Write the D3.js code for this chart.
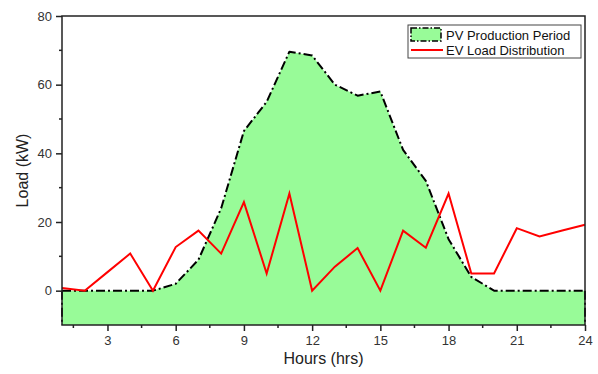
<!DOCTYPE html>
<html>
<head>
<meta charset="utf-8">
<script src="https://cdn.jsdelivr.net/npm/d3@7"></script>
<style>
  body { margin: 0; background: #fff; }
  svg { font-family: "Liberation Sans", Arial, sans-serif; }
</style>
</head>
<body>
<svg id="chart" width="598" height="374"></svg>
<script>
// hourly values
var hours = [1, 2, 3, 4, 5, 6, 7, 8, 9, 10, 11, 12, 13, 14, 15, 16, 17, 18, 19, 20, 21, 22, 23, 24];
var pvLoad = [0, 0, 0, 0, 0, 2, 9, 24, 46.5, 55, 69.6, 68.5, 60, 56.8, 58, 41, 32, 15, 4, 0, 0, 0, 0, 0];
var evLoad = [0.8, 0, 5.4, 10.8, 0, 12.7, 17.5, 10.8, 25.8, 5, 28.3, 0, 7, 12.4, 0, 17.5, 12.5, 28.3, 5, 5, 18.2, 15.8, 17.5, 19.2];
var xTicks = [3, 6, 9, 12, 15, 18, 21, 24];
var yTicks = [0, 20, 40, 60, 80];
var seriesNames = ["PV Production Period", "EV Load Distribution"];

var dimensions = {
    width: 598,
    height: 374,
    margin: { top: 16, right: 13, bottom: 49, left: 62 }
};

var svg = d3.select("#chart");

var xScale = d3.scaleLinear()
    .domain([1, 24])
    .range([dimensions.margin.left, dimensions.width - dimensions.margin.right]);

var yScale = d3.scaleLinear()
    .domain([-10, 80])
    .range([dimensions.height - dimensions.margin.bottom, dimensions.margin.top]);

var pvData = hours.map((h, i) => ({ h: h, v: pvLoad[i] }));
var evData = hours.map((h, i) => ({ h: h, v: evLoad[i] }));

var dashDot = "9,3,2,3";

// PV area, filled down to the bottom of the axis
var area = d3.area()
    .x(d => xScale(d.h))
    .y0(yScale(-10))
    .y1(d => yScale(d.v));

svg.append("path")
    .datum(pvData)
    .attr("d", area)
    .attr("fill", "#98fb98")
    .attr("stroke", "none");

var line = d3.line()
    .x(d => xScale(d.h))
    .y(d => yScale(d.v));

svg.append("path")
    .datum(pvData)
    .attr("d", line)
    .attr("fill", "none")
    .attr("stroke", "#000")
    .attr("stroke-width", 2)
    .attr("stroke-linejoin", "round")
    .attr("stroke-dasharray", dashDot);

// drop lines at the edges of the area
[hours[0], hours[hours.length - 1]].forEach(h => {
    svg.append("line")
        .attr("x1", xScale(h)).attr("x2", xScale(h))
        .attr("y1", yScale(0)).attr("y2", yScale(-10))
        .attr("stroke", "#000")
        .attr("stroke-width", 2)
        .attr("stroke-dasharray", dashDot);
});

// EV load line
svg.append("path")
    .datum(evData)
    .attr("d", line)
    .attr("fill", "none")
    .attr("stroke", "#ff0000")
    .attr("stroke-width", 2)
    .attr("stroke-linejoin", "miter");

// frame
svg.append("rect")
    .attr("x", dimensions.margin.left)
    .attr("y", dimensions.margin.top)
    .attr("width", dimensions.width - dimensions.margin.left - dimensions.margin.right)
    .attr("height", dimensions.height - dimensions.margin.top - dimensions.margin.bottom)
    .attr("fill", "none")
    .attr("stroke", "#222")
    .attr("stroke-width", 1.5);

// x axis
var xAxis = d3.axisBottom(xScale)
    .tickValues(xTicks)
    .tickSize(6)
    .tickPadding(5);
var gx = svg.append("g")
    .attr("transform", `translate(0, ${dimensions.height - dimensions.margin.bottom})`)
    .call(xAxis);
gx.select(".domain").remove();
gx.selectAll(".tick line").attr("stroke", "#222").attr("stroke-width", 1.5);
gx.selectAll(".tick text").attr("font-size", "13px").attr("fill", "#333")
    .attr("font-family", "Liberation Sans, Arial, sans-serif");

var xMinor = xTicks.map(t => t - 1.5);
svg.append("g").selectAll("line")
    .data(xMinor)
    .enter()
    .append("line")
    .attr("x1", d => xScale(d)).attr("x2", d => xScale(d))
    .attr("y1", yScale(-10)).attr("y2", yScale(-10) + 3)
    .attr("stroke", "#222")
    .attr("stroke-width", 1.5);

// y axis
var yAxis = d3.axisLeft(yScale)
    .tickValues(yTicks)
    .tickSize(6)
    .tickPadding(4);
var gy = svg.append("g")
    .attr("transform", `translate(${dimensions.margin.left}, 0)`)
    .call(yAxis);
gy.select(".domain").remove();
gy.selectAll(".tick line").attr("stroke", "#222").attr("stroke-width", 1.5);
gy.selectAll(".tick text").attr("font-size", "13px").attr("fill", "#333")
    .attr("font-family", "Liberation Sans, Arial, sans-serif");

var yMinor = [10, 30, 50, 70];
svg.append("g").selectAll("line")
    .data(yMinor)
    .enter()
    .append("line")
    .attr("x1", dimensions.margin.left - 3).attr("x2", dimensions.margin.left)
    .attr("y1", d => yScale(d)).attr("y2", d => yScale(d))
    .attr("stroke", "#222")
    .attr("stroke-width", 1.5);

// axis titles
svg.append("text")
    .attr("x", (xScale(1) + xScale(24)) / 2)
    .attr("y", 364)
    .attr("text-anchor", "middle")
    .attr("font-size", "16px")
    .attr("fill", "#222")
    .text("Hours (hrs)");

svg.append("text")
    .attr("transform", `translate(28, ${(yScale(-10) + yScale(80)) / 2}) rotate(-90)`)
    .attr("text-anchor", "middle")
    .attr("font-size", "16px")
    .attr("fill", "#222")
    .text("Load (kW)");

// legend
var legend = svg.append("g").attr("transform", "translate(408, 25)");
legend.append("rect")
    .attr("x", 0).attr("y", 0)
    .attr("width", 173).attr("height", 33)
    .attr("fill", "#fff")
    .attr("stroke", "#444")
    .attr("stroke-width", 1);

legend.append("rect")
    .attr("x", 3).attr("y", 3)
    .attr("width", 30).attr("height", 13)
    .attr("fill", "#98fb98")
    .attr("stroke", "#000")
    .attr("stroke-width", 1.5)
    .attr("stroke-dasharray", "6,2,1.5,2");

legend.append("line")
    .attr("x1", 3).attr("x2", 35)
    .attr("y1", 25).attr("y2", 25)
    .attr("stroke", "#ff0000")
    .attr("stroke-width", 2);

legend.selectAll(".legend-label")
    .data(seriesNames)
    .enter()
    .append("text")
    .attr("class", "legend-label")
    .attr("x", 38)
    .attr("y", (d, i) => 10 + i * 15)
    .attr("dy", "0.35em")
    .attr("font-size", "13px")
    .attr("fill", "#111")
    .text(d => d);
</script>
</body>
</html>
